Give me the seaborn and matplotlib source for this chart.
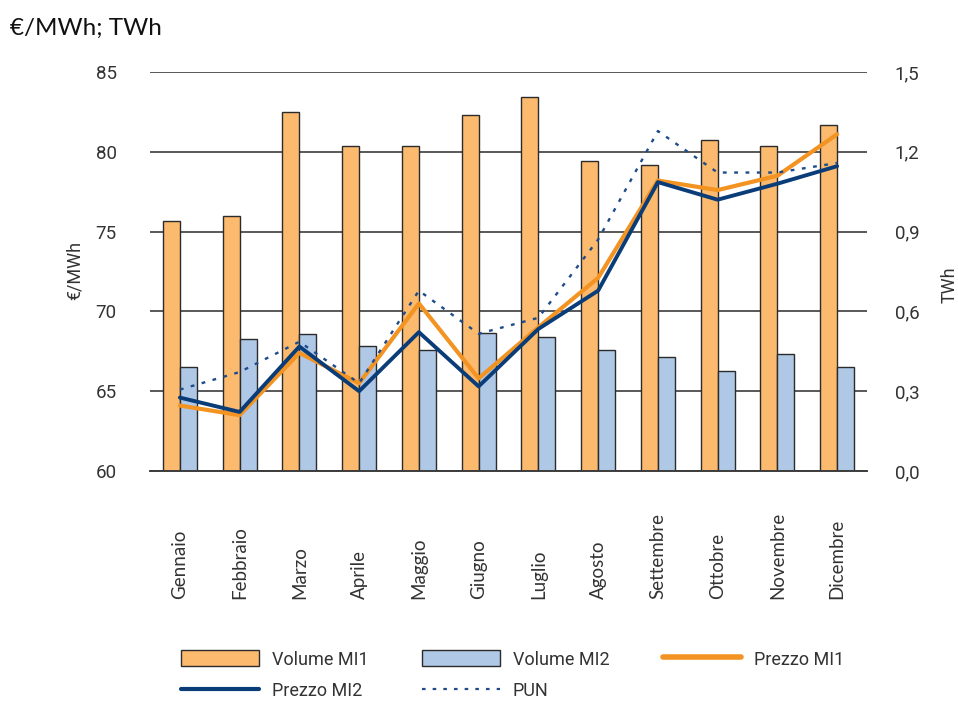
import matplotlib
matplotlib.use("Agg")
import matplotlib.pyplot as plt
from matplotlib.patches import Patch
from matplotlib.lines import Line2D
import pandas as pd
import seaborn as sns

mesi = ['Gennaio', 'Febbraio', 'Marzo', 'Aprile', 'Maggio', 'Giugno',
        'Luglio', 'Agosto', 'Settembre', 'Ottobre', 'Novembre', 'Dicembre']
volume_mi1 = [0.94, 0.96, 1.35, 1.22, 1.22, 1.34, 1.405, 1.165, 1.15, 1.245, 1.22, 1.30]
volume_mi2 = [0.39, 0.495, 0.515, 0.47, 0.455, 0.52, 0.505, 0.455, 0.43, 0.375, 0.44, 0.39]
prezzo_mi1 = [64.1, 63.5, 67.4, 65.5, 70.5, 65.8, 69.0, 72.1, 78.2, 77.6, 78.5, 81.1]
prezzo_mi2 = [64.6, 63.7, 67.8, 65.0, 68.7, 65.3, 68.9, 71.3, 78.1, 77.0, 78.0, 79.1]
pun = [65.1, 66.2, 68.1, 65.5, 71.3, 68.6, 69.6, 74.5, 81.3, 78.7, 78.7, 79.3]

c_vol1 = '#FBBA6E'
c_vol2 = '#AEC8E6'
c_p1 = '#F39322'
c_p2 = '#0A3D78'
c_pun = '#1E4C8A'
c_txt = '#333333'
c_edge = '#2b2b2b'

num_font = ['Roboto', 'DejaVu Sans']
txt_font = ['Lato', 'Open Sans', 'DejaVu Sans']

df = pd.DataFrame({
    'mese': mesi * 2,
    'serie': ['Volume MI1'] * 12 + ['Volume MI2'] * 12,
    'volume': volume_mi1 + volume_mi2,
})

sns.set_style('white')
plt.rcParams['font.family'] = num_font

fig = plt.figure(figsize=(9.58, 7.04), dpi=100)
ax = fig.add_axes([150 / 958, 1 - 471 / 704, (867 - 150) / 958, (471 - 72) / 704])

# bars on TWh scale (right side)
sns.barplot(data=df, x='mese', y='volume', hue='serie',
            palette={'Volume MI1': c_vol1, 'Volume MI2': c_vol2}, saturation=1,
            width=0.57, edgecolor=c_edge, linewidth=1, ax=ax, legend=False)
ax.set_ylim(0, 1.5)
ax.set_xlim(-0.5, 11.5)
ax.set_yticks([0, 0.3, 0.6, 0.9, 1.2, 1.5])
ax.set_yticklabels(['0,0', '0,3', '0,6', '0,9', '1,2', '1,5'])
ax.yaxis.grid(True, color='#3c3c3c', linewidth=1.2)
ax.set_axisbelow(True)
ax.set_xlabel('')
ax.set_ylabel('')

# lines on €/MWh scale (left side)
ax2 = ax.twinx()
x = list(range(12))
sns.lineplot(x=x, y=prezzo_mi1, color=c_p1, linewidth=3, ax=ax2)
sns.lineplot(x=x, y=prezzo_mi2, color=c_p2, linewidth=2.8, ax=ax2)
sns.lineplot(x=x, y=pun, color=c_pun, linewidth=1.7, linestyle=(0, (1.6, 3.2)), ax=ax2)
ax2.set_ylim(60, 85)
ax2.set_yticks([60, 65, 70, 75, 80, 85])
ax2.set_xlim(-0.5, 11.5)

# swap sides: volumes right, prices left
ax.yaxis.tick_right()
ax2.yaxis.tick_left()

for a in (ax, ax2):
    for s in ('left', 'right', 'top'):
        a.spines[s].set_visible(False)
    a.spines['bottom'].set_color('#3c3c3c')
    a.spines['bottom'].set_linewidth(1.2)

ax.tick_params(axis='y', length=0, pad=20, labelsize=13.5, labelcolor=c_txt)
ax2.tick_params(axis='y', length=0, pad=24, labelsize=13.5, labelcolor=c_txt)

# month labels at centres (anchored at their start, bottom), ticks at boundaries
ax.set_xticks(x)
ax.set_xticklabels(mesi, rotation=90, fontsize=13.5, family=txt_font, color=c_txt,
                   va='bottom')
ax.set_xticks([i - 0.5 for i in range(13)], minor=True)
ax.tick_params(axis='x', which='major', length=0, pad=92)
ax.tick_params(axis='x', which='minor', length=8, width=1.2, color='#3c3c3c', direction='out')

fig.text(75 / 958, 1 - 270 / 704, '€/MWh', rotation=90, ha='center', va='center',
         fontsize=13, color=c_txt)
fig.text(950 / 958, 1 - 285 / 704, 'TWh', rotation=90, ha='center', va='center',
         fontsize=13, color=c_txt)
fig.text(10 / 958, 1 - 28 / 704, '€/MWh; TWh', ha='left', va='center',
         fontsize=17.5, family=txt_font, color='#111111')

handles = [
    Patch(facecolor=c_vol1, edgecolor=c_edge, linewidth=1, label='Volume MI1'),
    Line2D([], [], color=c_p2, linewidth=3, label='Prezzo MI2'),
    Patch(facecolor=c_vol2, edgecolor=c_edge, linewidth=1, label='Volume MI2'),
    Line2D([], [], color=c_pun, linewidth=1.6, linestyle=(0, (1.6, 3.2)), label='PUN'),
    Line2D([], [], color=c_p1, linewidth=4, label='Prezzo MI1'),
]
fig.legend(handles=handles, ncol=3, loc='upper left',
           bbox_to_anchor=(165 / 958, 1 - 634 / 704), frameon=False,
           fontsize=13, handlelength=4.3, handleheight=1.0, handletextpad=0.7,
           columnspacing=3.0, labelspacing=0.75, labelcolor=c_txt)

fig.savefig('out.png', dpi=100)
